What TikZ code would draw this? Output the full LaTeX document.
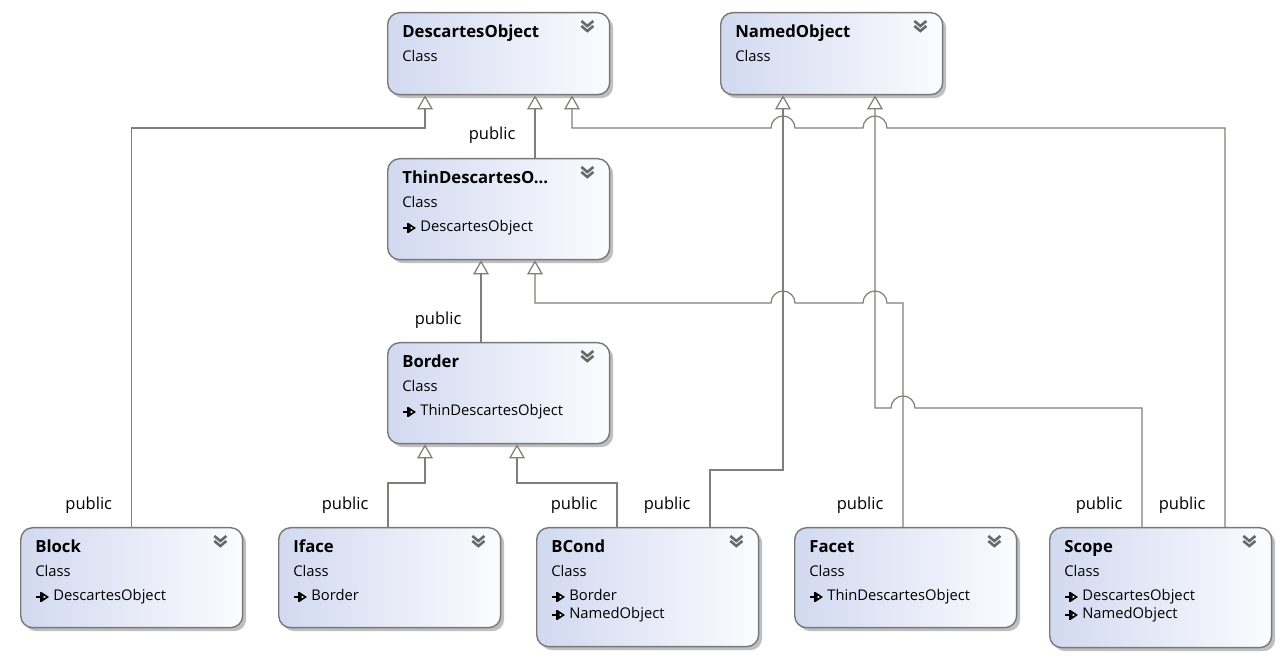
\documentclass[tikz,border=0pt]{standalone}
\usepackage{fontspec}
\setmainfont{Open Sans}
\usetikzlibrary{positioning, calc, arrows.meta, shadows}
\definecolor{lineGray}{RGB}{128,126,122}
\definecolor{boxBlue}{RGB}{210,217,240}
\definecolor{boxWhite}{RGB}{251,252,255}
\definecolor{borderGray}{RGB}{120,120,120}
\definecolor{chevronGray}{RGB}{105,105,105}
\tikzstyle{diagram} = [x = 0.02cm, y = -0.02cm]
\tikzstyle{classBoxStyle} = [draw=borderGray, line width=0.8pt, rounded corners = .24cm, left color=boxBlue, right color=boxWhite, minimum width=4.44cm, inner sep=0pt, anchor=north west, drop shadow={shadow xshift=.07cm, shadow yshift=-.07cm, opacity=.25, fill=black}]
\tikzstyle{titleText} = [font=\fontsize{9.5}{11}\selectfont\bfseries, anchor=base west, inner sep=0pt]
\tikzstyle{kindText} = [font=\fontsize{8.4}{10}\selectfont, anchor=base west, inner sep=0pt]
\tikzstyle{pubLabel} = [font=\fontsize{9.4}{11}\selectfont, anchor=base east, inner sep=0pt, xshift=-.38cm, yshift=.36cm]
\tikzstyle{inherit} = [draw=lineGray, line width=.7pt, -{Triangle[fill=white, length=8pt, width=9pt]}]
\tikzstyle{chevronStyle} = [draw=chevronGray, line width=1.5pt, line join=miter]
\tikzstyle{memberIcon} = [draw=black, line width=.9pt, -{Triangle[fill=white, length=4pt, width=5pt]}]
\tikzstyle{memberBar} = [draw=black, line width=.9pt]
\newcommand{\collapseIcon}[1]{
  \draw [chevronStyle] ($(#1.north east) + (-29,9)$) -- ++(6,5) -- ++(6,-5);
  \draw [chevronStyle] ($(#1.north east) + (-29,14)$) -- ++(6,5) -- ++(6,-5);
}
\newcommand{\classBox}[5]{
  \node [classBoxStyle, minimum height=#4] (#1) at (#2,#3) {};
  \node [titleText] (#1Title) at ($(#1.north west) + (15,26)$) {#5};
  \node [kindText] (#1Kind) at ($(#1.north west) + (15,50)$) {Class};
  \collapseIcon{#1}
}
\newcommand{\memberLine}[3]{
  \node [kindText] (#1Member#2) at ($(#1.north west) + (33,{74 + 18 * (#2 - 1)})$) {#3};
  \draw [memberIcon] ($(#1.north west) + (16,{70 + 18 * (#2 - 1)})$) -- ++(13,0);
  \draw [memberBar] ($(#1.north west) + (21,{65 + 18 * (#2 - 1)})$) -- ++(0,10);
}

\begin{document}
\begin{tikzpicture}[diagram]
  \useasboundingbox (0,0) rectangle (1282,658);
  \classBox{desc}{387}{12}{1.64cm}{DescartesObject}
  \classBox{named}{720}{12}{1.64cm}{NamedObject}
  \classBox{thin}{387}{158}{2.02cm}{ThinDescartesO...}
  \memberLine{thin}{1}{DescartesObject}
  \classBox{border}{387}{342}{2.02cm}{Border}
  \memberLine{border}{1}{ThinDescartesObject}
  \classBox{block}{20}{527}{2cm}{Block}
  \memberLine{block}{1}{DescartesObject}
  \classBox{iface}{278}{527}{2cm}{Iface}
  \memberLine{iface}{1}{Border}
  \classBox{bcond}{536}{527}{2.38cm}{BCond}
  \memberLine{bcond}{1}{Border}
  \memberLine{bcond}{2}{NamedObject}
  \classBox{facet}{794}{527}{2cm}{Facet}
  \memberLine{facet}{1}{ThinDescartesObject}
  \classBox{scope}{1049}{527}{2.4cm}{Scope}
  \memberLine{scope}{1}{DescartesObject}
  \memberLine{scope}{2}{NamedObject}
  % inheritance lines
  \draw [inherit] (block.north) node [pubLabel] {public} -- ++(0,-399) -| ($(desc.south west) + (38,0)$);
  \draw [inherit] ($(thin.north west) + (148,0)$) node [pubLabel] {public} -- ($(desc.south west) + (148,0)$);
  \draw [inherit] ($(scope.north west) + (176,0)$) node [pubLabel] {public} -- ++(0,-399) -- (887,128) arc [start angle=0, end angle=-180, radius=12] -- (795,128) arc [start angle=0, end angle=-180, radius=12] -| ($(desc.south west) + (185,0)$);
  \draw [inherit] ($(border.north west) + (94,0)$) node [pubLabel] {public} -- ($(thin.south west) + (94,0)$);
  \draw [inherit] ($(facet.north west) + (109,0)$) node [pubLabel] {public} -- ++(0,-224) -- (887,303) arc [start angle=0, end angle=-180, radius=12] -- (795,303) arc [start angle=0, end angle=-180, radius=12] -| ($(thin.south west) + (148,0)$);
  \draw [inherit] ($(iface.north west) + (110,0)$) node [pubLabel] {public} -- ++(0,-44) -| ($(border.south west) + (38,0)$);
  \draw [inherit] ($(bcond.north west) + (81,0)$) node [pubLabel] {public} -- ++(0,-44) -| ($(border.south west) + (130,0)$);
  \draw [inherit] ($(bcond.north west) + (174,0)$) node [pubLabel] {public} -- ++(0,-57) -| ($(named.south west) + (63,0)$);
  \draw [inherit] ($(scope.north west) + (93,0)$) node [pubLabel] {public} -- ++(0,-119) -- (915,408) arc [start angle=0, end angle=-180, radius=12] -| ($(named.south west) + (155,0)$);
\end{tikzpicture}
\end{document}
